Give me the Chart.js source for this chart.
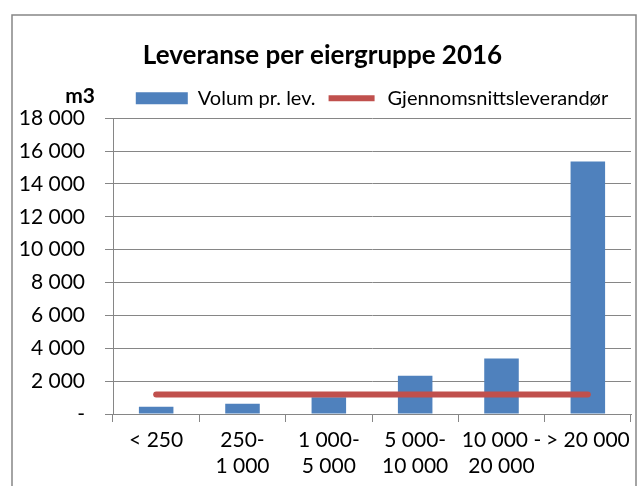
<!DOCTYPE html>
<html>
<head>
<meta charset="utf-8">
<script src="https://cdn.jsdelivr.net/npm/chart.js@4"></script>
<style>
  html, body { margin: 0; padding: 0; background: #fff; }
  #wrap { width: 641px; height: 486px; }
</style>
</head>
<body>
<div id="wrap"><canvas id="c" width="641" height="486"></canvas></div>
<script>
const categories = ["< 250", ["250-", "1 000"], ["1 000-", "5 000"], ["5 000-", "10 000"], ["10 000 -", "20 000"], "> 20 000"];
const volumPrLev = [437, 625, 1020, 2330, 3370, 15370];
const gjennomsnitt = [1190, 1190, 1190, 1190, 1190, 1190];
const yTicks = [0, 2000, 4000, 6000, 8000, 10000, 12000, 14000, 16000, 18000];

const FONT = "Lato, 'Liberation Sans', sans-serif";
Chart.defaults.font.family = FONT;
Chart.defaults.color = "#000";

const frame = {
  id: "frame",
  beforeDraw(chart) {
    const ctx = chart.ctx;
    ctx.save();
    ctx.fillStyle = "#fff";
    ctx.fillRect(0, 0, chart.width, chart.height);
    ctx.strokeStyle = "#868686";
    ctx.lineWidth = 1.5;
    ctx.strokeRect(12, 15, 624, 480);
    ctx.restore();
  },
  afterDraw(chart) {
    const ctx = chart.ctx;
    ctx.save();
    ctx.font = "bold 21px " + FONT;
    ctx.fillStyle = "#000";
    ctx.textAlign = "right";
    ctx.textBaseline = "middle";
    ctx.fillText("m3", 95, 96);
    ctx.restore();
  }
};

new Chart(document.getElementById("c"), {
  type: "bar",
  data: {
    labels: categories,
    datasets: [
      { type: "bar", label: "Volum pr. lev.", data: volumPrLev,
        backgroundColor: "#4F81BD", barPercentage: 0.4, categoryPercentage: 1, order: 2 },
      { type: "line", label: "Gjennomsnittsleverandør", data: gjennomsnitt,
        borderColor: "#C0504D", backgroundColor: "#C0504D", borderWidth: 6,
        borderCapStyle: "round", pointRadius: 0, order: 1 },
    ],
  },
  options: {
    responsive: false, animation: false,
    layout: { padding: { left: 14, right: 10, top: 40, bottom: 8 } },
    plugins: {
      title: { display: true, text: "Leveranse per eiergruppe 2016",
        font: { size: 26, weight: "bold" }, color: "#000", padding: { top: 0, bottom: 7 } },
      legend: {
        display: true, fullSize: false,
        labels: {
          boxWidth: 52, boxHeight: 12, font: { size: 20 }, color: "#000", padding: 10,
          sort: (a, b) => a.datasetIndex - b.datasetIndex,
          generateLabels(chart) {
            const items = Chart.defaults.plugins.legend.labels.generateLabels(chart);
            items.forEach(it => {
              if (it.datasetIndex === 1) { it.strokeStyle = "#fff"; it.lineWidth = 6; it.fillStyle = "#C0504D"; }
              else { it.lineWidth = 0; }
            });
            return items;
          }
        }
      },
      tooltip: { enabled: false },
    },
    scales: {
      x: {
        grid: { offset: true, drawOnChartArea: false, color: "#868686", tickLength: 8 },
        border: { color: "#868686" },
        ticks: { font: { size: 21 }, color: "#000", maxRotation: 0, autoSkip: false, padding: 6 },
        afterFit(s) { s.height = 72 - 8; },
      },
      y: {
        min: 0, max: 18000,
        afterBuildTicks(s) { s.ticks = yTicks.map(v => ({ value: v })); },
        grid: { color: "#868686", tickLength: 8 },
        border: { color: "#868686" },
        ticks: {
          font: { size: 21 }, color: "#000", padding: 20,
          callback: v => v === 0 ? "-" : String(v).replace(/\B(?=(\d{3})+(?!\d))/g, " "),
        },
        afterFit(s) { s.width = 113 - 14; },
      },
    },
  },
  plugins: [frame],
});
</script>
</body>
</html>
